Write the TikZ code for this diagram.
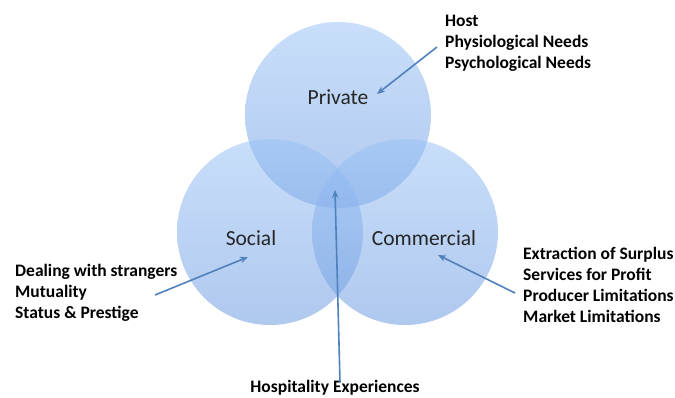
\documentclass[tikz,border=0pt]{standalone}
\usepackage{fontspec}
\setmainfont{Carlito}
\usetikzlibrary{arrows.meta}
\definecolor{vennTop}{RGB}{155,195,246}
\definecolor{vennBot}{RGB}{110,155,224}
\definecolor{arrowBlue}{RGB}{79,129,189}
\begin{document}
\begin{tikzpicture}[x=1pt, y=-1pt,
  venn/.style={circle, draw=none, minimum size=186pt, inner sep=0pt, top color=vennTop, bottom color=vennBot, fill opacity=0.55},
  sphere/.style={font=\fontsize{21.5}{24}\selectfont, text=black!85, inner sep=2pt},
  facts/.style={font=\bfseries\fontsize{17.5}{21}\selectfont, align=left, inner sep=0pt, anchor=north west},
  pointer/.style={draw=arrowBlue, line width=1.6pt, -{Stealth[length=8pt,width=6.5pt]}}
]
\useasboundingbox (0,0) rectangle (675,397);
% the three domains
\node[venn] (privC) at (338,115) {};
\node[venn] (socC) at (270,232) {};
\node[venn] (comC) at (405,232) {};
\node[sphere] (privL) at (338,97) {Private};
\node[sphere] (socL) at (251,238) {Social};
\node[sphere] (comL) at (424,238) {Commercial};
% lists
\node[facts] (hostT) at (445,15) {Host\\Physiological Needs\\Psychological Needs};
\node[facts] (socT) at (15,264) {Dealing with strangers\\Mutuality\\Status \& Prestige};
\node[facts] (comT) at (523,247) {Extraction of Surplus\\Services for Profit\\Producer Limitations\\Market Limitations};
\node[font=\bfseries\fontsize{17.5}{21}\selectfont, inner sep=0pt, anchor=north] (hospT) at (335,380) {Hospitality Experiences};
% arrow ends
\coordinate (privTail) at (437,47);
\coordinate (privTip) at (377,94);
\coordinate (socTail) at (155,295);
\coordinate (socTip) at (248,257);
\coordinate (comTail) at (515,293);
\coordinate (comTip) at (438,255);
\coordinate (hospTail) at ([yshift=-2pt]hospT.north -| 340,0);
\coordinate (hospTip) at (335,190);
% pointers
\draw[pointer] (privTail) -- (privTip);
\draw[pointer] (socTail) -- (socTip);
\draw[pointer] (comTail) -- (comTip);
\draw[pointer] (hospTail) -- (hospTip);
\end{tikzpicture}
\end{document}
